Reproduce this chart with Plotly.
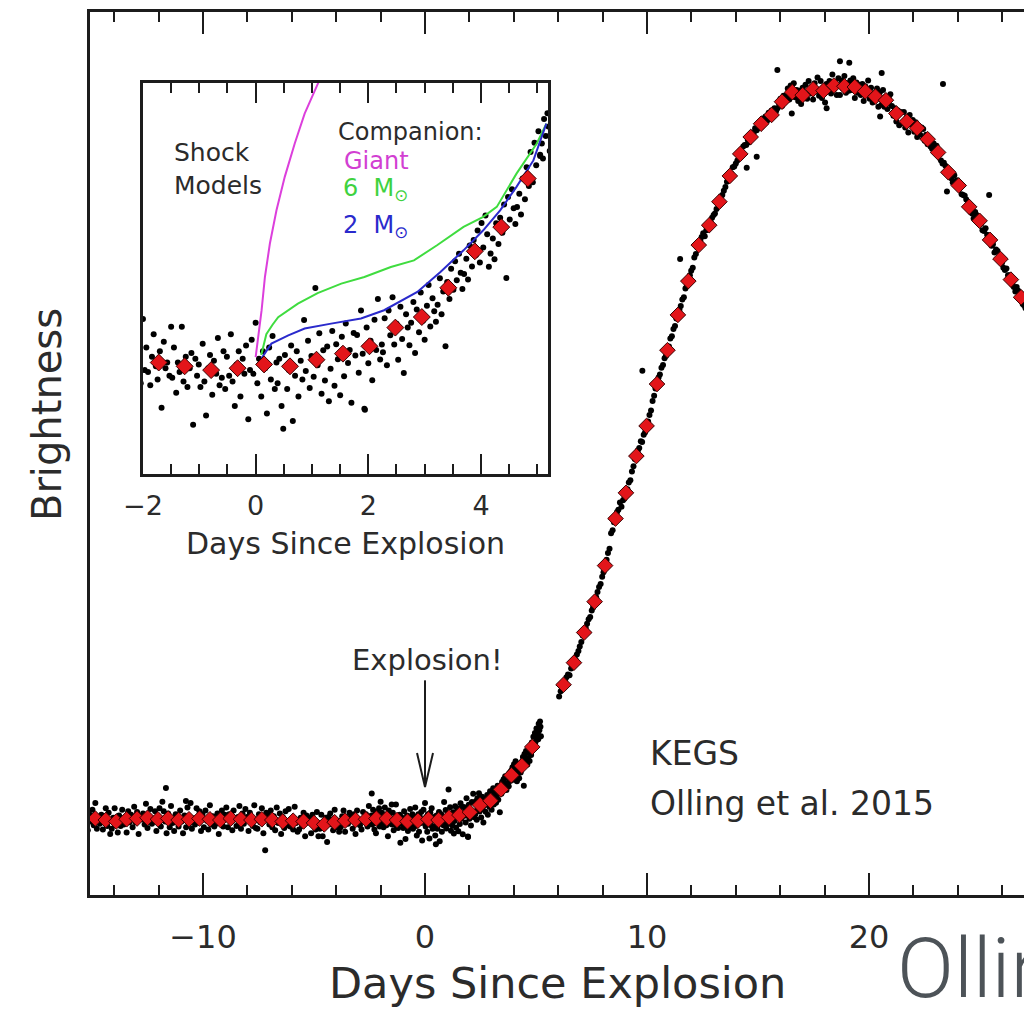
import plotly.graph_objects as go

# ---------------- data (brightness in units of peak flux above baseline) -------------
bin_day = [-15.32, -14.85, -14.38, -13.91, -13.44, -12.97, -12.50, -12.03, -11.57, -11.10,
           -10.63, -10.16, -9.69, -9.22, -8.75, -8.29, -7.82, -7.35, -6.88, -6.41,
           -5.94, -5.47, -5.00, -4.54, -4.07, -3.60, -3.13, -2.66,
           -2.19, -1.72, -1.26, -0.79, -0.32, 0.15, 0.61, 1.08, 1.55, 2.02,
           2.48, 2.95, 3.42, 3.89, 4.36, 4.83,
           6.24, 6.71, 7.17, 7.64, 8.11, 8.58, 9.05, 9.52, 9.98, 10.45,
           10.92, 11.39, 11.86, 12.33, 12.80, 13.26, 13.73, 14.20, 14.67, 15.14,
           15.61, 16.08, 16.54, 17.01, 17.48, 17.95, 18.42, 18.89, 19.36, 19.83,
           20.29, 20.76, 21.23, 21.70, 22.17, 22.64, 23.11, 23.57, 24.04, 24.51,
           24.98, 25.45, 25.92, 26.39, 26.85]

bin_flux = [0.003, 0.002, 0.000, -0.002, 0.001, 0.002, 0.003, 0.001, 0.002, 0.000,
            0.001, 0.002, 0.001, 0.000, 0.002, 0.001, 0.000, 0.001, 0.000, -0.002,
            -0.001, -0.002, -0.004, -0.006, -0.003, -0.001, 0.000, 0.001,
            0.002, 0.002, 0.000, -0.002, -0.001, 0.001, 0.000, 0.0035, 0.0067, 0.0106,
            0.0205, 0.0261, 0.0416, 0.0609, 0.0737, 0.0994,
            0.184, 0.214, 0.255, 0.297, 0.346, 0.410, 0.445, 0.495, 0.536, 0.593,
            0.639, 0.687, 0.733, 0.782, 0.809, 0.841, 0.876, 0.906, 0.929, 0.947,
            0.959, 0.977, 0.990, 0.986, 0.994, 0.992, 0.999, 0.998, 0.997, 0.991,
            0.984, 0.979, 0.961, 0.950, 0.941, 0.926, 0.908, 0.881, 0.863, 0.834,
            0.815, 0.789, 0.763, 0.735, 0.711]

# individual 30-min cadence points: residuals from the bin value, in units of 0.001
bin_resid = [
    "9 -6 14 -11 3 -17 5", "-4 12 -9 21 -14 2 -7", "7 -13 -2 16 -8 10 -19",
    "-10 5 18 -3 -15 8 -6", "13 -7 2 -18 11 -4 6", "-12 16 -5 9 -21 3 -1",
    "6 -9 19 -14 0 12 -8", "-3 11 -16 4 15 -10 24", "10 -4 -20 7 -12 17 -6",
    "-15 8 3 -9 13 -2 -18", "5 -11 16 -6 22 -13 1", "-8 14 -3 10 -17 6 -12",
    "12 -2 -14 19 -7 4 -10", "-5 9 -19 2 13 -9 7", "15 -12 6 -4 -16 11 -1",
    "-9 3 18 -13 8 -6 14", "4 -15 10 -2 -8 20 -11", "-13 7 -4 15 -19 1 9",
    "8 -6 13 -10 5 -14 17", "-2 11 -17 6 -9 14 -5", "16 -8 2 -12 19 -3 -15",
    "-11 5 -6 12 -20 8 3", "7 -14 11 -1 -9 15 -18", "-6 13 -16 4 9 -24 10",
    "12 -3 -11 17 -7 2 -13", "-9 6 14 -15 3 -4 11", "5 -12 8 -19 13 -1 -7",
    "-14 10 -3 7 -10 18 -5",
    "4 -8 12 -3 -15 6 -20 9 2 -6 14 -11 23 -4",
    "8 -5 -12 3 15 -2 -9 6 -24 11 -3 0 -7 19",
    "-6 10 -14 2 -3 21 -8 5 -11 -1 7 -31 4 -5",
    "3 -9 14 -6 -24 1 8 -13 5 -2 17 -8 -4 10",
    "-11 6 -4 18 -7 -20 2 9 -15 5 -3 12 -27 -1",
    "13 -5 22 -10 3 -17 7 -2 -26 9 -8 15 -13 1",
    "-9 4 -21 -33 6 -12 -2 11 -29 -5 8 -16 3 -7",
    "21 -6 10 -15 2 -9 38 -3 14 -18 5 -11 7 -22",
    "-8 12 -17 5 -3 -22 9 -12 16 -5 2 -26 11 -1",
    "6 -14 19 -4 -33 10 -9 3 -18 14 -2 25 -7 1",
    "-13 5 -20 9 -4 16 -9 2 -17 11 -6 -24 7 0",
    "-15 -3 8 -19 4 -8 13 -2 -12 6 17 -5 10 3",
    "-18 -9 5 -14 -2 -31 3 -6 10 -1 14 4 18 8",
    "-20 -12 -4 -15 3 -8 6 -2 11 -6 15 2 19 9",
    "-21 -14 -6 -17 2 -9 5 -3 12 -27 16 4 20 10",
    "-24 -15 -8 -19 0 -11 6 -4 14 -2 19 7 25 12",
    "-16 -9 -2 1 5 10 14", "-17 -8 -5 2 4 11 16", "-19 -13 -4 -1 6 12 18",
    "-21 -12 -8 3 6 13 20", "-25 -15 -9 1 8 17 23", "-20 -16 -5 -2 9 12 22",
    "-19 -10 -8 2 5 14 17", "-21 -14 -4 1 8 11 20", "-22 -12 -9 3 6 15 21",
    "-23 -16 -6 -1 9 13 22", "-20 -11 -8 2 5 16 19", "-19 -15 -5 3 7 12 21",
    "-22 -10 -7 -2 8 14 18", "-17 -12 -3 1 6 11 16", "-15 -7 -5 3 4 10 14",
    "-16 -10 -2 -1 7 9 15", "-15 -8 -6 2 3 12 13", "-13 -9 -1 4 2 10 12",
    "-11 -4 -7 3 6 5 12", "-9 -6 2 -4 7 3 10", "-8 3 -5 6 -2 9 5",
    "-9 -3 4 -6 8 2 7", "5 -10 9 -4 12 -7 3", "-8 6 -12 10 -3 14 -5",
    "11 -6 3 -14 8 -2 16", "-7 13 -10 4 -16 9 1", "6 -11 15 -5 2 -13 10",
    "-12 8 -3 14 -9 4 -6", "9 -4 12 -15 6 -8 3", "-5 10 -13 7 -2 15 -10",
    "12 -8 4 -3 11 -14 6", "-6 14 -9 5 -12 3 8", "10 -3 7 -11 4 -16 2",
    "-2 13 -8 6 -15 9 -4", "11 -5 8 -12 3 -9 1", "14 -2 6 -7 -3 -10 -13",
    "12 5 9 -4 -2 -11 -15", "13 9 2 4 -6 -8 -14", "14 6 7 -3 -2 -12 -13",
    "15 10 3 1 -7 -9 -16", "12 8 5 -2 -4 -13 -14", "16 7 4 0 -8 -6 -17",
    "13 11 2 -1 -5 -12 -15", "15 6 6 -3 -7 -10 -16", "14 9 3 1 -9 -11 -15",
]

# cadence offsets (days) of the individual points inside one bin
cadence_7 = [-0.20, -0.13, -0.07, 0.0, 0.07, 0.13, 0.20]
cadence_14 = [-0.22, -0.19, -0.15, -0.12, -0.09, -0.05, -0.02,
              0.02, 0.05, 0.09, 0.12, 0.15, 0.19, 0.22]

# outliers and points in the partial bin before the data gap
extra_day = [5.05, 5.08, 5.10, 5.12, 5.15, 5.18, 5.20, 5.22,
             -11.67, -10.77, -7.20, -2.40, 1.94, 15.87, 18.69, 19.11, 20.57,
             23.33, 23.51, 25.41, 18.09, 16.52, 14.94, 14.49, 20.50, 11.49, 9.79]
extra_flux = [0.112, 0.118, 0.110, 0.131, 0.122, 0.134, 0.127, 0.114,
              0.0435, 0.026, -0.041, 0.036, -0.023, 1.020, 1.032, 1.030, 1.016,
              1.001, 0.855, 0.850, 0.968, 0.961, 0.902, 0.887, 0.957, 0.763, 0.611]

# shock-interaction model curves (inset)
giant_day = [0.0, 0.047, 0.106, 0.165, 0.253, 0.37, 0.517, 0.694, 0.87, 1.105, 1.3]
giant_flux = [0.0049, 0.0155, 0.0297, 0.0473, 0.065, 0.0826, 0.1003, 0.118, 0.1338, 0.1497, 0.162]
m6_day = [0.10, 0.19, 0.30, 0.40, 0.75, 1.10, 1.52, 1.93, 2.40, 2.81, 3.22, 3.69, 4.04,
          4.28, 4.63, 4.99, 5.16]
m6_flux = [0.006, 0.017, 0.022, 0.026, 0.0332, 0.0388, 0.0438, 0.0473, 0.0526, 0.0561,
           0.0641, 0.0738, 0.0791, 0.0844, 0.102, 0.118, 0.1285]
m2_day = [0.10, 0.28, 0.58, 0.87, 1.34, 1.87, 2.28, 2.87, 3.28, 3.69, 4.04, 4.34, 4.63,
          4.93, 5.16]
m2_flux = [0.004, 0.012, 0.0164, 0.020, 0.0226, 0.0253, 0.0297, 0.0394, 0.050, 0.0614,
           0.072, 0.0826, 0.095, 0.109, 0.1285]

# explosion marker (arrow): day of explosion, arrow tip / tail brightness levels
explosion_day = 0.0
arrow_tip, arrow_tail = 0.045, 0.19

# ---------------- assemble individual points ----------------
raw_day, raw_flux = [], []
for d, f, s in zip(bin_day, bin_flux, bin_resid):
    res = [int(v) for v in s.split()]
    offs = cadence_14 if len(res) == 14 else cadence_7
    for o, r in zip(offs, res):
        raw_day.append(d + o)
        raw_flux.append(f + r * 0.001)
raw_day += extra_day
raw_flux += extra_flux

FONT = "DejaVu Sans"
INK = "#1c1c1c"
TXT = "#2b2b2b"
RED = "#e3151a"

fig = go.Figure()

# main panel
fig.add_trace(go.Scatter(x=raw_day, y=raw_flux, mode="markers",
                         marker=dict(size=6, color="black"), xaxis="x", yaxis="y",
                         showlegend=False, hoverinfo="skip"))
fig.add_trace(go.Scatter(x=bin_day, y=bin_flux, mode="markers",
                         marker=dict(symbol="diamond", size=12, color=RED,
                                     line=dict(color="#3a0000", width=1)),
                         xaxis="x", yaxis="y", showlegend=False))

# inset panel
fig.add_trace(go.Scatter(x=raw_day, y=raw_flux, mode="markers",
                         marker=dict(size=6, color="black"), xaxis="x2", yaxis="y2",
                         showlegend=False, hoverinfo="skip"))
fig.add_trace(go.Scatter(x=giant_day, y=giant_flux, mode="lines",
                         line=dict(color="#dc3fdc", width=2), xaxis="x2", yaxis="y2",
                         showlegend=False))
fig.add_trace(go.Scatter(x=m6_day, y=m6_flux, mode="lines",
                         line=dict(color="#3fdc3f", width=2), xaxis="x2", yaxis="y2",
                         showlegend=False))
fig.add_trace(go.Scatter(x=m2_day, y=m2_flux, mode="lines",
                         line=dict(color="#2a2acc", width=2), xaxis="x2", yaxis="y2",
                         showlegend=False))
fig.add_trace(go.Scatter(x=bin_day, y=bin_flux, mode="markers",
                         marker=dict(symbol="diamond", size=13, color=RED,
                                     line=dict(color="#3a0000", width=1)),
                         xaxis="x2", yaxis="y2", showlegend=False))

axis_common = dict(showline=True, linecolor=INK, linewidth=2.5, showgrid=False,
                   zeroline=False, ticks="inside", tickcolor=INK, tickwidth=2,
                   mirror="allticks")

fig.update_layout(
    width=1024, height=1011,
    margin=dict(l=90, r=0, t=12, b=116),
    paper_bgcolor="white", plot_bgcolor="white",
    font=dict(family=FONT, color=TXT),
    xaxis=dict(**axis_common, domain=[0, 1], range=[-15.09, 26.98], anchor="y",
               tick0=0, dtick=10, ticklen=22, tickfont=dict(size=32),
               ticklabelstandoff=12,
               minor=dict(ticks="inside", dtick=2, ticklen=10, tickwidth=2,
                          tickcolor=INK, showgrid=False)),
    yaxis=dict(showline=True, linecolor=INK, linewidth=2.5, showgrid=False,
               zeroline=False, ticks="", showticklabels=False, mirror=False,
               domain=[0, 1], range=[-0.102, 1.099], anchor="x"),
    xaxis2=dict(**axis_common, domain=[0.0567, 0.4904], range=[-2.0, 5.19],
                anchor="y2", tick0=0, dtick=2, ticklen=20, tickfont=dict(size=27),
                ticklabelstandoff=6,
                minor=dict(ticks="inside", dtick=0.5, ticklen=10, tickwidth=2,
                           tickcolor=INK, showgrid=False)),
    yaxis2=dict(showline=True, linecolor=INK, linewidth=2.5, showgrid=False,
                zeroline=False, ticks="", showticklabels=False, mirror=True,
                domain=[0.4768, 0.9196], range=[-0.057, 0.15], anchor="x2"),
)

# explosion arrow: shaft plus open V head
fig.add_shape(type="line", xref="x", yref="y", x0=explosion_day, x1=explosion_day,
              y0=arrow_tail, y1=arrow_tip, line=dict(color=INK, width=2))
fig.add_shape(type="path", xref="x", yref="y",
              path=(f"M {explosion_day - 0.36},{arrow_tip + 0.046} "
                    f"L {explosion_day},{arrow_tip} "
                    f"L {explosion_day + 0.36},{arrow_tip + 0.046}"),
              line=dict(color=INK, width=2))

ann = []
ann.append(dict(text="Days Since Explosion", xref="paper", yref="paper", x=0.5,
                y=-0.0997, xanchor="center", yanchor="middle", showarrow=False,
                font=dict(size=43)))
ann.append(dict(text="Brightness", xref="paper", yref="paper", x=-0.046, y=0.5436,
                xanchor="center", yanchor="middle", textangle=-90, showarrow=False,
                font=dict(size=40)))
ann.append(dict(text="Days Since Explosion", xref="paper", yref="paper", x=0.2736,
                y=0.3986, xanchor="center", yanchor="middle", showarrow=False,
                font=dict(size=30)))
ann.append(dict(text="Explosion!", xref="x", yref="y", x=0.1, y=0.218,
                xanchor="center", yanchor="middle", showarrow=False,
                font=dict(size=29)))
ann.append(dict(text="KEGS", xref="x", yref="y", x=10.05, y=0.09, xanchor="left",
                yanchor="middle", showarrow=False, font=dict(size=33)))
ann.append(dict(text="Olling et al. 2015", xref="x", yref="y", x=10.05, y=0.023,
                xanchor="left", yanchor="middle", showarrow=False, font=dict(size=33)))
ann.append(dict(text="Shock<br>Models", xref="x2", yref="y2", x=-1.48, y=0.1043,
                xanchor="left", yanchor="middle", align="left", showarrow=False,
                font=dict(size=25)))
ann.append(dict(text="Companion:", xref="x2", yref="y2", x=1.43, y=0.124,
                xanchor="left", yanchor="middle", showarrow=False, font=dict(size=24)))
ann.append(dict(text="Giant", xref="x2", yref="y2", x=1.53, y=0.1086,
                xanchor="left", yanchor="middle", showarrow=False,
                font=dict(size=24, color="#d23fd2")))
ann.append(dict(text="6  M<sub>⊙</sub>", xref="x2", yref="y2", x=1.51, y=0.0937,
                xanchor="left", yanchor="middle", showarrow=False,
                font=dict(size=24, color="#3fd23f")))
ann.append(dict(text="2  M<sub>⊙</sub>", xref="x2", yref="y2", x=1.51, y=0.0742,
                xanchor="left", yanchor="middle", showarrow=False,
                font=dict(size=24, color="#2a2acc")))
ann.append(dict(text="Olling et al. 2015", xref="paper", yref="paper", x=0.862,
                y=-0.0827, xanchor="left", yanchor="middle", showarrow=False,
                font=dict(size=84, family="Liberation Sans Narrow, Roboto",
                          weight=300, color="#4d5358")))
fig.update_layout(annotations=ann)

fig.write_html("out.html")
